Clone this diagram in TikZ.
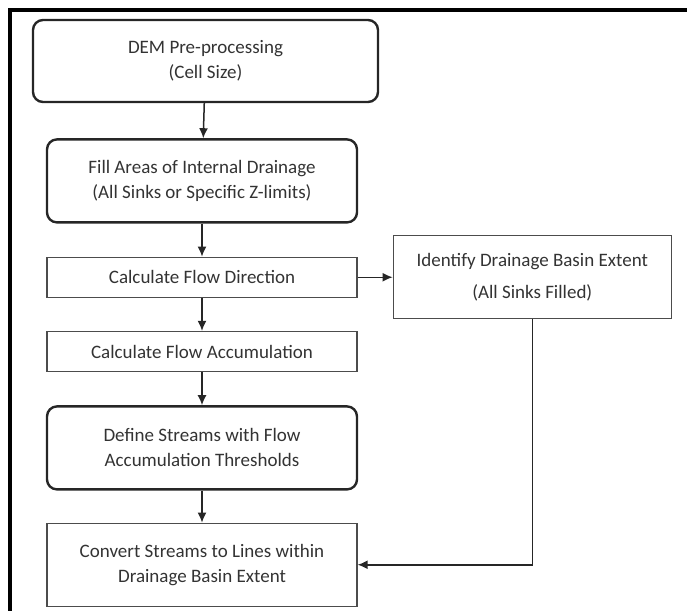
\documentclass[tikz,border=0pt]{standalone}
\usepackage{fontspec}
\setmainfont{Carlito}
\usetikzlibrary{positioning,arrows.meta}

\begin{document}
\begin{tikzpicture}[
    x=1pt, y=-1pt,
    every node/.style={align=center, text=black!80, inner sep=2pt,
        font=\fontsize{19}{25}\selectfont},
    roundbox/.style={draw=black!85, line width=2.4pt, rounded corners=10pt,
        minimum width=310pt, minimum height=83pt},
    plainbox/.style={draw=black!70, line width=1.3pt,
        minimum width=310pt, minimum height=40pt},
    flow/.style={draw=black!85, line width=1.5pt, -{Latex[length=10pt,width=9pt]}}
]
\useasboundingbox (0,0) rectangle (687,611);
% outer frame
\draw[line width=4pt] (8,10) -- (687,10);
\draw[line width=4pt] (10,8) -- (10,611);

\node[roundbox, minimum width=345pt, minimum height=82pt] (dem) at (205.5,61)
    {DEM Pre-processing\\(Cell Size)};
\node[roundbox, below=35pt of dem, xshift=-3.5pt] (fill)
    {Fill Areas of Internal Drainage\\(All Sinks or Specific Z-limits)};
\node[plainbox, below=33pt of fill] (dir) {Calculate Flow Direction};
\node[plainbox, below=33pt of dir] (acc) {Calculate Flow Accumulation};
\node[roundbox, below=33pt of acc] (streams)
    {Define Streams with Flow\\Accumulation Thresholds};
\node[plainbox, minimum height=83pt, below=32pt of streams] (convert)
    {Convert Streams to Lines within\\Drainage Basin Extent};
\node[plainbox, minimum width=278pt, minimum height=83pt, right=35pt of dir] (basin)
    {Identify Drainage Basin Extent\\[7pt](All Sinks Filled)};

\coordinate (bend) at (basin.south |- convert.east);

\draw[flow] (dem) -- (fill);
\draw[flow] (fill) -- (dir);
\draw[flow] (dir) -- (acc);
\draw[flow] (acc) -- (streams);
\draw[flow] (streams) -- (convert);
\draw[flow] (dir) -- (basin);
\draw[flow] (basin.south) -- (bend) -- (convert.east);
\end{tikzpicture}
\end{document}
